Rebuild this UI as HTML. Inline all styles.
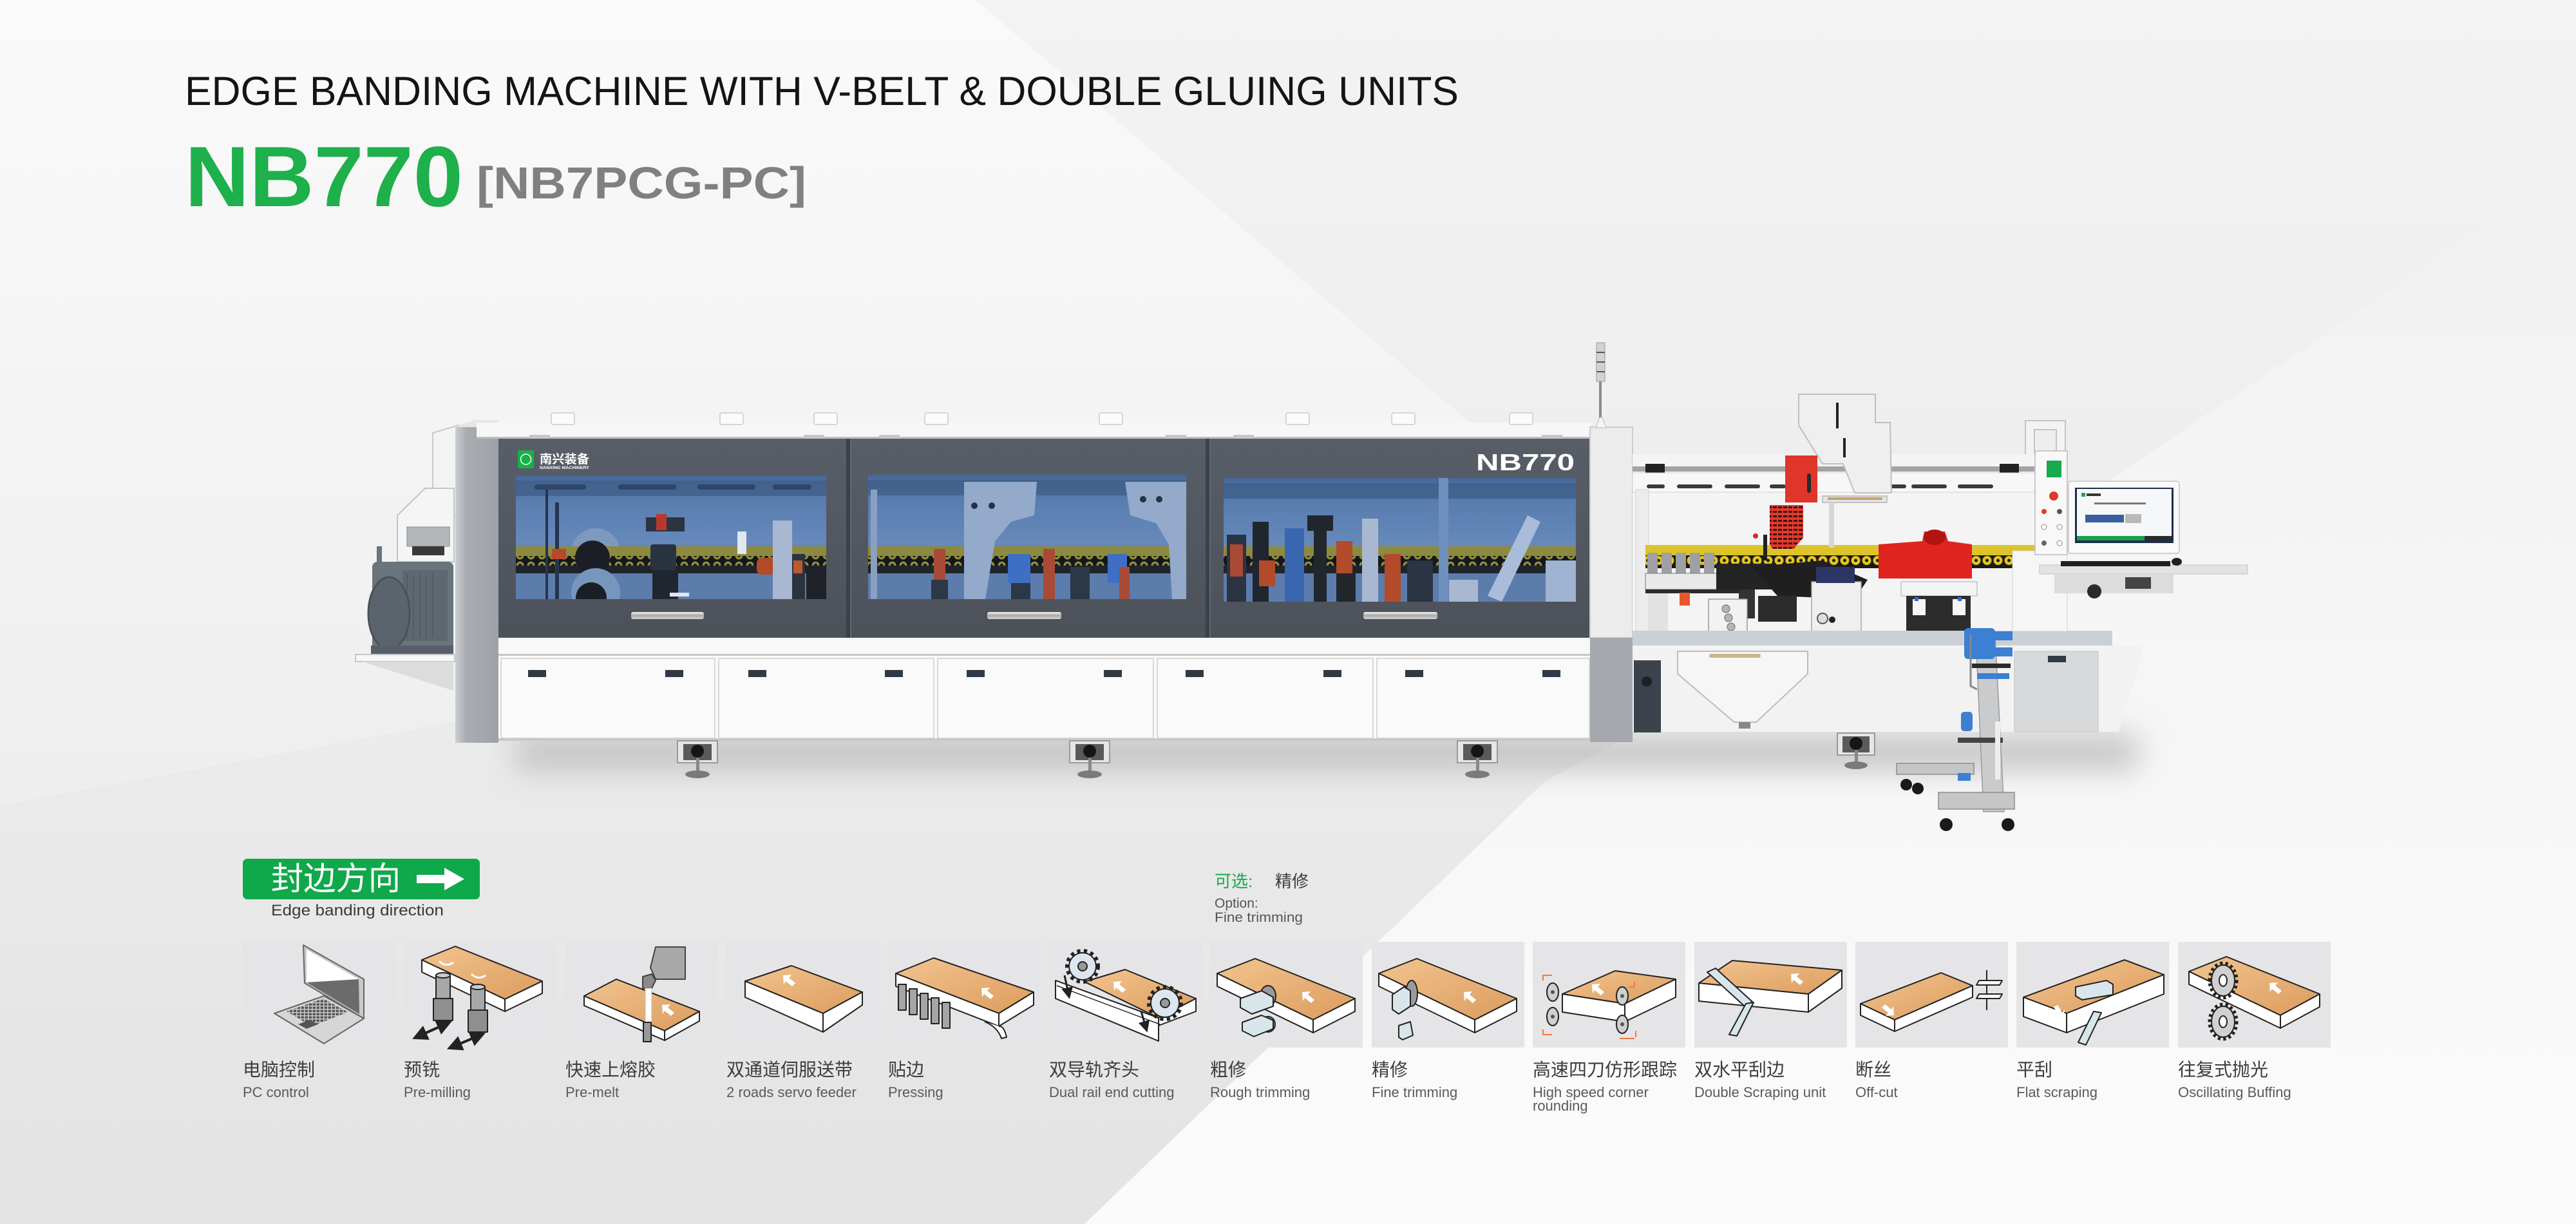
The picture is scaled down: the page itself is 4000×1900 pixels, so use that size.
<!DOCTYPE html>
<html><head><meta charset="utf-8"><style>
html,body{margin:0;padding:0;background:#f0f0f0;}
body{width:4000px;height:1900px;overflow:hidden;}
svg{display:block;}
.cn{font-family:"Liberation Sans","Noto Sans CJK SC",sans-serif;}
.en{font-family:"Liberation Sans",sans-serif;}
</style></head><body>
<svg width="4000" height="1900" viewBox="0 0 4000 1900" xmlns="http://www.w3.org/2000/svg">
<defs>
<linearGradient id="bg" x1="0" y1="0" x2="0" y2="1"><stop offset="0" stop-color="#f3f3f3"/><stop offset="0.55" stop-color="#ececec"/><stop offset="1" stop-color="#e3e3e3"/></linearGradient>
<linearGradient id="lt" x1="0" y1="0" x2="0" y2="1"><stop offset="0" stop-color="#fafafa"/><stop offset="1" stop-color="#eeeeee"/></linearGradient>
<linearGradient id="wt" x1="0" y1="0" x2="0" y2="1"><stop offset="0" stop-color="#f1f1f1"/><stop offset="1" stop-color="#fbfbfb"/></linearGradient>
<linearGradient id="wood" x1="0" y1="0" x2="1" y2="1"><stop offset="0" stop-color="#f2c48f"/><stop offset="1" stop-color="#dc9c5e"/></linearGradient>
<linearGradient id="post" x1="0" y1="0" x2="1" y2="0"><stop offset="0" stop-color="#cbced2"/><stop offset="0.25" stop-color="#a9adb2"/><stop offset="1" stop-color="#9ea2a7"/></linearGradient>
<linearGradient id="panel" x1="0" y1="0" x2="0" y2="1"><stop offset="0" stop-color="#585e68"/><stop offset="1" stop-color="#4c515a"/></linearGradient>
<linearGradient id="win" x1="0" y1="0" x2="0" y2="1"><stop offset="0" stop-color="#46679a"/><stop offset="0.2" stop-color="#587dae"/><stop offset="0.55" stop-color="#6789bb"/><stop offset="1" stop-color="#5677a6"/></linearGradient>
<linearGradient id="hdl" x1="0" y1="0" x2="0" y2="1"><stop offset="0" stop-color="#f4f4f4"/><stop offset="0.5" stop-color="#a8a8a8"/><stop offset="1" stop-color="#d6d6d6"/></linearGradient>
<pattern id="chainB" width="17" height="15" patternUnits="userSpaceOnUse"><rect width="17" height="15" fill="#14171b"/><circle cx="8.5" cy="7.5" r="6" fill="#8e8b3c"/><circle cx="8.5" cy="7.5" r="2.5" fill="#14171b"/></pattern>
<pattern id="chainY" width="17" height="20" patternUnits="userSpaceOnUse"><rect width="17" height="20" fill="#1a1a1a"/><circle cx="8.5" cy="10" r="7" fill="#e3c51f"/><circle cx="8.5" cy="10" r="2.5" fill="#1a1a1a"/></pattern>
<pattern id="grill" width="8" height="7" patternUnits="userSpaceOnUse"><rect width="8" height="7" fill="#e4382c"/><rect x="1" y="2" width="6" height="3" fill="#3a1410"/></pattern>
<pattern id="keys" width="6" height="5" patternUnits="userSpaceOnUse"><rect width="6" height="5" fill="#c9c9c9"/><rect x="0.5" y="0.5" width="4.5" height="3.5" fill="#555"/></pattern>
<filter id="blur" x="-20%" y="-200%" width="140%" height="500%"><feGaussianBlur stdDeviation="24"/></filter>
<marker id="ah" markerWidth="6" markerHeight="6" refX="3" refY="3" orient="auto"><path d="M0,0 L6,3 L0,6 Z" fill="#222"/></marker>
<marker id="ahs" markerWidth="6" markerHeight="6" refX="3" refY="3" orient="auto-start-reverse"><path d="M0,0 L6,3 L0,6 Z" fill="#222"/></marker>
<clipPath id="cw1"><rect x="801" y="738" width="482" height="192"/></clipPath>
<clipPath id="cw2"><rect x="1348" y="737" width="494" height="193"/></clipPath>
<clipPath id="cw3"><rect x="1900" y="742" width="547" height="192"/></clipPath>
<path id="arr" d="M0,0 L13,-1 L9,4 L19,12 L14,17 L4,9 L1,14 Z" fill="#fff"/>
</defs>

<!-- ============ BACKGROUND ============ -->
<rect width="4000" height="1900" fill="url(#bg)"/>
<polygon points="0,0 1515,0 2450,800 0,1250" fill="url(#lt)"/>
<polygon points="1684,1900 2400,1212 3267,751 4000,254 4000,1900" fill="url(#wt)"/>

<!-- ============ TITLE ============ -->
<text x="287" y="163" class="en" font-size="63" fill="#141414" textLength="1978" lengthAdjust="spacingAndGlyphs">EDGE BANDING MACHINE WITH V-BELT &amp; DOUBLE GLUING UNITS</text>
<text x="287" y="320" class="en" font-size="133" font-weight="bold" fill="#1db04b" textLength="432" lengthAdjust="spacingAndGlyphs">NB770</text>
<text x="740" y="308" class="en" font-size="70" font-weight="bold" fill="#808080" textLength="512" lengthAdjust="spacingAndGlyphs">[NB7PCG-PC]</text>

<!-- ============ MACHINE SHADOW ============ -->
<rect x="800" y="1140" width="2520" height="55" fill="#b8b8b8" opacity="0.8" filter="url(#blur)"/>

<!-- ============ LEFT INFEED ============ -->
<polygon points="672,672 712,660 712,800 672,800" fill="#f3f3f3" stroke="#c9c9c9" stroke-width="2"/>
<polygon points="617,800 660,758 705,758 705,872 617,872" fill="#f5f5f5" stroke="#c4c4c4" stroke-width="2"/>
<rect x="632" y="818" width="66" height="30" fill="#b4b7ba" stroke="#888" stroke-width="1"/>
<rect x="640" y="848" width="50" height="14" fill="#3a3a3a"/>
<rect x="578" y="872" width="126" height="140" rx="8" fill="#6a747d"/>
<rect x="625" y="885" width="70" height="110" fill="#5f6870"/>
<g stroke="#545c64" stroke-width="2"><line x1="632" y1="890" x2="632" y2="990"/><line x1="642" y1="890" x2="642" y2="990"/><line x1="652" y1="890" x2="652" y2="990"/><line x1="662" y1="890" x2="662" y2="990"/><line x1="672" y1="890" x2="672" y2="990"/></g>
<ellipse cx="604" cy="952" rx="32" ry="56" fill="#5b646c" stroke="#4a5158" stroke-width="3"/>
<rect x="585" y="848" width="8" height="24" fill="#6a747d"/>
<rect x="576" y="1002" width="128" height="14" fill="#57606a"/>
<polygon points="552,1016 706,1016 706,1027 552,1027" fill="#f7f7f7" stroke="#c8c8c8" stroke-width="2"/>
<polygon points="562,1027 704,1027 704,1072" fill="#dcdcdc"/>

<!-- ============ MAIN BODY ============ -->
<rect x="707" y="663" width="67" height="490" fill="url(#post)"/>
<polygon points="707,663 735,652 774,652 774,663" fill="#e6e6e6"/>
<rect x="740" y="656" width="1730" height="25" fill="#f7f7f7"/>
<rect x="740" y="678" width="1730" height="3" fill="#bdbdbd"/>
<g fill="#fbfbfb" stroke="#d6d6d6" stroke-width="2">
<rect x="856" y="641" width="36" height="18" rx="3"/><rect x="1118" y="641" width="36" height="18" rx="3"/><rect x="1264" y="641" width="36" height="18" rx="3"/><rect x="1436" y="641" width="36" height="18" rx="3"/><rect x="1707" y="641" width="36" height="18" rx="3"/><rect x="1997" y="641" width="36" height="18" rx="3"/><rect x="2161" y="641" width="36" height="18" rx="3"/><rect x="2344" y="641" width="36" height="18" rx="3"/>
</g>
<g fill="#c6c6c6"><rect x="822" y="675" width="32" height="7"/><rect x="1248" y="675" width="32" height="7"/><rect x="1365" y="675" width="32" height="7"/><rect x="1810" y="675" width="32" height="7"/><rect x="1915" y="675" width="32" height="7"/><rect x="2394" y="675" width="32" height="7"/></g>

<rect x="774" y="681" width="1698" height="309" fill="url(#panel)"/>
<rect x="1314" y="681" width="6" height="309" fill="#3c4149"/><rect x="1320" y="681" width="2" height="309" fill="#626872"/>
<rect x="1872" y="681" width="6" height="309" fill="#3c4149"/><rect x="1878" y="681" width="2" height="309" fill="#626872"/>

<rect x="804" y="699" width="25" height="28" fill="#18b04a"/>
<circle cx="816.5" cy="713" r="8" fill="none" stroke="#fff" stroke-width="1.5"/>
<text x="838" y="719" class="cn" font-size="19" font-weight="bold" fill="#fff" textLength="77" lengthAdjust="spacingAndGlyphs">南兴装备</text>
<text x="838" y="728" class="en" font-size="6.5" font-weight="bold" fill="#fff" textLength="77" lengthAdjust="spacingAndGlyphs">NANXING MACHINERY</text>
<text x="2292" y="730" class="en" font-size="36" font-weight="bold" fill="#fff" textLength="153" lengthAdjust="spacingAndGlyphs">NB770</text>

<!-- Window 1 -->
<g clip-path="url(#cw1)">
<rect x="801" y="738" width="482" height="192" fill="url(#win)"/>
<rect x="801" y="746" width="482" height="24" fill="#3f5c86" opacity="0.7"/>
<g fill="#2f4567"><rect x="830" y="752" width="80" height="8" rx="4"/><rect x="960" y="752" width="90" height="8" rx="4"/><rect x="1083" y="752" width="90" height="8" rx="4"/><rect x="1200" y="752" width="60" height="8" rx="4"/></g>
<circle cx="925" cy="858" r="38" fill="#7e99c0"/>
<rect x="1003" y="803" width="60" height="22" fill="#2b3442"/><rect x="1019" y="798" width="16" height="25" fill="#b8392b"/>
<rect x="801" y="848" width="482" height="15" fill="#8c8a3f"/>
<rect x="801" y="863" width="482" height="15" fill="url(#chainB)"/>
<rect x="801" y="878" width="482" height="12" fill="#1f242b"/>
<rect x="801" y="890" width="482" height="40" fill="#5c7dab"/>
<circle cx="920" cy="866" r="27" fill="#1b1f25"/>
<circle cx="925" cy="920" r="38" fill="#7896bd"/><circle cx="918" cy="928" r="24" fill="#1b1f25"/>
<rect x="847" y="760" width="4" height="170" fill="#253550"/><rect x="862" y="780" width="6" height="150" fill="#253550"/>
<rect x="857" y="852" width="22" height="16" fill="#b8472c"/>
<rect x="1010" y="845" width="40" height="40" rx="4" fill="#2a3340"/>
<rect x="1013" y="885" width="40" height="45" fill="#1f2630"/>
<rect x="1040" y="920" width="30" height="6" fill="#dde6f0"/>
<rect x="1175" y="866" width="30" height="26" rx="8" fill="#b34a2a"/>
<rect x="1200" y="808" width="30" height="122" fill="#a7b8d0"/>
<rect x="1230" y="860" width="20" height="70" fill="#2a3340"/><rect x="1232" y="870" width="14" height="20" fill="#c0582e"/>
<rect x="1252" y="880" width="31" height="50" fill="#1e2228"/>
<rect x="1145" y="825" width="14" height="35" fill="#dfe7f0"/>
</g>

<!-- Window 2 -->
<g clip-path="url(#cw2)">
<rect x="1348" y="737" width="494" height="193" fill="url(#win)"/>
<rect x="1348" y="745" width="494" height="24" fill="#3f5c86" opacity="0.7"/>
<rect x="1348" y="848" width="494" height="15" fill="#8c8a3f"/>
<rect x="1348" y="863" width="494" height="15" fill="url(#chainB)"/>
<rect x="1348" y="878" width="494" height="12" fill="#1f242b"/>
<rect x="1348" y="890" width="494" height="40" fill="#5c7dab"/>
<polygon points="1497,748 1610,748 1606,800 1570,810 1545,840 1530,930 1497,930" fill="#93aacb"/>
<polygon points="1747,748 1842,748 1842,930 1820,930 1815,845 1795,812 1755,800" fill="#93aacb"/>
<g fill="#243245"><circle cx="1513" cy="785" r="5"/><circle cx="1540" cy="785" r="5"/><circle cx="1775" cy="775" r="5"/><circle cx="1800" cy="775" r="5"/></g>
<rect x="1450" y="852" width="18" height="78" fill="#a84a35"/><rect x="1446" y="900" width="26" height="30" fill="#2c3748"/>
<rect x="1565" y="860" width="35" height="45" fill="#3e6fc2"/><rect x="1570" y="905" width="30" height="25" fill="#2c3748"/>
<rect x="1620" y="852" width="18" height="78" fill="#a84a35"/>
<rect x="1662" y="880" width="30" height="50" fill="#2c3748"/>
<rect x="1720" y="860" width="30" height="45" fill="#3e6fc2"/><rect x="1738" y="880" width="16" height="50" fill="#a84a35"/>
<rect x="1352" y="760" width="10" height="170" fill="#8aa0c2"/>
</g>

<!-- Window 3 -->
<g clip-path="url(#cw3)">
<rect x="1900" y="742" width="547" height="192" fill="url(#win)"/>
<rect x="1900" y="750" width="547" height="24" fill="#3f5c86" opacity="0.7"/>
<rect x="1900" y="848" width="547" height="15" fill="#8c8a3f"/>
<rect x="1900" y="863" width="547" height="15" fill="url(#chainB)"/>
<rect x="1900" y="878" width="547" height="12" fill="#1f242b"/>
<rect x="1900" y="890" width="547" height="44" fill="#5c7dab"/>
<rect x="2234" y="742" width="15" height="192" fill="#6f8fbe"/>
<rect x="1905" y="830" width="30" height="104" fill="#2b3442"/><rect x="1910" y="845" width="20" height="50" fill="#a84a35"/>
<rect x="1945" y="810" width="25" height="124" fill="#1f2630"/><rect x="1955" y="870" width="25" height="40" fill="#b34a2a"/>
<rect x="1995" y="820" width="30" height="114" fill="#3a66b0"/>
<rect x="2030" y="800" width="40" height="24" fill="#22272e"/><rect x="2040" y="824" width="20" height="110" fill="#22272e"/>
<rect x="2075" y="840" width="25" height="50" fill="#b34a2a"/><rect x="2075" y="890" width="30" height="44" fill="#22272e"/>
<rect x="2115" y="805" width="25" height="129" fill="#a7b8d0"/>
<rect x="2150" y="860" width="25" height="74" fill="#b34a2a"/>
<rect x="2185" y="870" width="40" height="64" fill="#2b3442"/>
<rect x="2250" y="900" width="45" height="34" fill="#a7b8d0"/>
<polygon points="2310,925 2372,800 2392,810 2332,934" fill="#a9bddb"/>
<rect x="2400" y="870" width="47" height="64" fill="#9fb3d2"/>
</g>

<rect x="980" y="950" width="113" height="11" rx="3" fill="url(#hdl)"/>
<rect x="1533" y="950" width="115" height="11" rx="3" fill="url(#hdl)"/>
<rect x="2117" y="950" width="115" height="11" rx="3" fill="url(#hdl)"/>

<rect x="774" y="990" width="1696" height="28" fill="#f8f8f8"/>
<rect x="774" y="1015" width="1696" height="3" fill="#c6c6c6"/>
<rect x="774" y="1018" width="1696" height="132" fill="#fafafa"/>
<g fill="none" stroke="#d8d8d8" stroke-width="2">
<rect x="778" y="1022" width="332" height="124"/><rect x="1116" y="1022" width="334" height="124"/><rect x="1456" y="1022" width="335" height="124"/><rect x="1797" y="1022" width="335" height="124"/><rect x="2138" y="1022" width="330" height="124"/>
</g>
<rect x="774" y="1146" width="1696" height="4" fill="#c9c9c9"/>
<g fill="#2f3a44">
<rect x="820" y="1040" width="28" height="11"/><rect x="1033" y="1040" width="28" height="11"/><rect x="1162" y="1040" width="28" height="11"/><rect x="1374" y="1040" width="28" height="11"/><rect x="1501" y="1040" width="28" height="11"/><rect x="1714" y="1040" width="28" height="11"/><rect x="1841" y="1040" width="28" height="11"/><rect x="2055" y="1040" width="28" height="11"/><rect x="2182" y="1040" width="28" height="11"/><rect x="2395" y="1040" width="28" height="11"/>
</g>

<g>
<rect x="1052" y="1150" width="62" height="34" fill="#e6e6e6" stroke="#9a9a9a" stroke-width="2"/><rect x="1061" y="1155" width="44" height="25" fill="#5a5a5a"/><circle cx="1083" cy="1166" r="10" fill="#151515"/><rect x="1081" y="1176" width="5" height="22" fill="#888"/><ellipse cx="1083" cy="1202" rx="19" ry="6" fill="#7a7a7a"/>
<rect x="1661" y="1150" width="62" height="34" fill="#e6e6e6" stroke="#9a9a9a" stroke-width="2"/><rect x="1670" y="1155" width="44" height="25" fill="#5a5a5a"/><circle cx="1692" cy="1166" r="10" fill="#151515"/><rect x="1690" y="1176" width="5" height="22" fill="#888"/><ellipse cx="1692" cy="1202" rx="19" ry="6" fill="#7a7a7a"/>
<rect x="2263" y="1150" width="62" height="34" fill="#e6e6e6" stroke="#9a9a9a" stroke-width="2"/><rect x="2272" y="1155" width="44" height="25" fill="#5a5a5a"/><circle cx="2294" cy="1166" r="10" fill="#151515"/><rect x="2292" y="1176" width="5" height="22" fill="#888"/><ellipse cx="2294" cy="1202" rx="19" ry="6" fill="#7a7a7a"/>
<rect x="2853" y="1138" width="58" height="34" fill="#e6e6e6" stroke="#9a9a9a" stroke-width="2"/><rect x="2861" y="1143" width="42" height="25" fill="#5a5a5a"/><circle cx="2882" cy="1154" r="10" fill="#151515"/><rect x="2880" y="1164" width="5" height="20" fill="#888"/><ellipse cx="2882" cy="1188" rx="18" ry="6" fill="#7a7a7a"/>
</g>

<rect x="2469" y="663" width="66" height="327" fill="#ececec" stroke="#cdcdcd" stroke-width="2"/>
<rect x="2469" y="990" width="66" height="162" fill="#a5a9ae"/>
<rect x="2483" y="590" width="4" height="60" fill="#8a8a8a"/>
<rect x="2479" y="532" width="13" height="60" fill="#d2d2d2" stroke="#999" stroke-width="1"/>
<g fill="#555"><rect x="2479" y="546" width="13" height="2"/><rect x="2479" y="561" width="13" height="2"/><rect x="2479" y="576" width="13" height="2"/></g>
<polygon points="2478,664 2484,648 2488,648 2494,664" fill="#f5f5f5" stroke="#bbb" stroke-width="1"/>

<!-- ============ RIGHT SECTION ============ -->
<rect x="2535" y="705" width="625" height="275" fill="#f4f4f4"/>
<rect x="2535" y="724" width="625" height="8" fill="#a3a3a3"/>
<rect x="2555" y="720" width="30" height="16" fill="#222"/><rect x="3105" y="720" width="30" height="16" fill="#222"/>
<rect x="2535" y="734" width="625" height="30" fill="#f7f7f7" stroke="#d3d3d3" stroke-width="1"/>
<g fill="#3a3a3a"><rect x="2557" y="752" width="28" height="6" rx="3"/><rect x="2604" y="752" width="55" height="6" rx="3"/><rect x="2678" y="752" width="55" height="6" rx="3"/><rect x="2748" y="752" width="25" height="6" rx="3"/><rect x="2935" y="752" width="25" height="6" rx="3"/><rect x="2968" y="752" width="55" height="6" rx="3"/><rect x="3040" y="752" width="55" height="6" rx="3"/></g>
<rect x="2540" y="760" width="20" height="220" fill="#ececec" stroke="#d0d0d0" stroke-width="1"/>
<rect x="2555" y="846" width="605" height="16" fill="#dcc42a"/>
<rect x="2555" y="862" width="605" height="20" fill="url(#chainY)"/>
<g fill="#9ea0a3"><rect x="2558" y="858" width="16" height="32"/><rect x="2580" y="858" width="16" height="32"/><rect x="2602" y="858" width="16" height="32"/><rect x="2624" y="858" width="16" height="32"/><rect x="2646" y="858" width="16" height="32"/></g>
<rect x="2555" y="890" width="130" height="25" fill="#e9e9e9" stroke="#777" stroke-width="1"/>
<rect x="2555" y="915" width="145" height="6" fill="#2a2a2a"/>
<rect x="2560" y="921" width="30" height="59" fill="#e2e2e2"/>
<rect x="2608" y="920" width="16" height="20" fill="#e8562e"/>
<rect x="2665" y="875" width="90" height="40" fill="#242424"/>
<rect x="2700" y="915" width="25" height="45" fill="#333"/>
<polygon points="2720,880 2830,870 2900,900 2880,930 2760,925" fill="#1f1f1f"/>
<rect x="2730" y="925" width="60" height="40" fill="#2c2c2c"/>
<rect x="2738" y="830" width="6" height="40" fill="#222"/>
<rect x="2653" y="930" width="60" height="75" fill="#f2f2f2" stroke="#9a9a9a" stroke-width="1.5"/>
<g fill="#b5b5b5" stroke="#666" stroke-width="1"><circle cx="2680" cy="945" r="6"/><circle cx="2684" cy="959" r="6"/><circle cx="2688" cy="973" r="6"/><circle cx="2692" cy="987" r="6"/></g>
<rect x="2813" y="903" width="77" height="82" fill="#efefef" stroke="#a5a5a5" stroke-width="1.5"/>
<circle cx="2830" cy="960" r="8" fill="#ddd" stroke="#555" stroke-width="2"/><circle cx="2845" cy="962" r="5" fill="#222"/>
<rect x="2820" y="880" width="60" height="25" fill="#2c3766"/>
<polygon points="2793,612 2912,612 2912,656 2935,656 2937,765 2880,765 2862,720 2830,720 2793,660" fill="#efefef" stroke="#bfbfbf" stroke-width="2"/>
<rect x="2851" y="625" width="4" height="40" fill="#222"/><rect x="2862" y="680" width="4" height="30" fill="#222"/>
<rect x="2830" y="770" width="100" height="10" fill="#e5e5e5" stroke="#999" stroke-width="1"/>
<rect x="2838" y="772" width="85" height="4" fill="#c8a46c"/>
<rect x="2840" y="780" width="8" height="70" fill="#d6d6d6"/>
<rect x="2772" y="707" width="50" height="73" fill="#e0352b"/>
<rect x="2806" y="735" width="6" height="30" rx="3" fill="#2a2a2a"/>
<polygon points="2748,784 2800,784 2800,835 2785,852 2752,852 2748,845" fill="url(#grill)"/>
<circle cx="2726" cy="832" r="4" fill="#d42a20"/>
<polygon points="2917,845 2985,840 2988,825 3020,825 3025,840 3062,845 3062,898 2917,898" fill="#e0241f"/>
<ellipse cx="3004" cy="834" rx="17" ry="12" fill="#b01510"/>
<rect x="2952" y="903" width="118" height="22" fill="#f3f3f3" stroke="#aaa" stroke-width="1"/>
<rect x="2960" y="925" width="100" height="60" fill="#2c2c2c"/>
<rect x="2970" y="930" width="20" height="25" fill="#f5f5f5"/><rect x="3032" y="930" width="20" height="25" fill="#f5f5f5"/>
<rect x="2973" y="927" width="6" height="6" fill="#2b6fd6"/><rect x="3040" y="927" width="6" height="6" fill="#2b6fd6"/>
<rect x="2535" y="979" width="745" height="23" fill="#cbd0d6"/>
<polygon points="2535,1002 3325,1002 3325,1020 3290,1136 2535,1136" fill="#f2f2f2"/>
<rect x="2537" y="1025" width="42" height="112" fill="#3b424b"/>
<circle cx="2557" cy="1058" r="8" fill="#1d2126"/>
<polygon points="2605,1011 2807,1011 2807,1046 2727,1121 2693,1121 2605,1046" fill="#f6f6f6" stroke="#bdbdbd" stroke-width="2"/>
<rect x="2654" y="1015" width="80" height="6" rx="3" fill="#cbb48a"/>
<rect x="2700" y="1121" width="18" height="10" fill="#888"/>
<rect x="3128" y="1011" width="130" height="125" fill="#d8d9db" stroke="#c2c2c2" stroke-width="1"/>
<rect x="3180" y="1018" width="28" height="10" fill="#2f3a44"/>
<rect x="3125" y="855" width="85" height="125" fill="#f6f6f6" stroke="#d2d2d2" stroke-width="1"/>
<path d="M3152,705 L3152,660 L3200,660 L3200,700" fill="none" stroke="#c4c4c4" stroke-width="16"/>
<path d="M3152,705 L3152,660 L3200,660 L3200,700" fill="none" stroke="#f3f3f3" stroke-width="12"/>
<rect x="3160" y="700" width="50" height="161" fill="#f8f8f8" stroke="#c9c9c9" stroke-width="2"/>
<rect x="3178" y="715" width="23" height="26" fill="#18a94a"/>
<circle cx="3189" cy="770" r="7" fill="#e03a2a"/>
<circle cx="3174" cy="794" r="4" fill="#e03a2a"/><circle cx="3198" cy="794" r="4" fill="#555"/>
<circle cx="3174" cy="818" r="4" fill="#fff" stroke="#888"/><circle cx="3198" cy="818" r="4" fill="#fff" stroke="#888"/>
<circle cx="3174" cy="843" r="4" fill="#666"/><circle cx="3198" cy="843" r="4" fill="#fff" stroke="#888"/>
<rect x="3212" y="747" width="172" height="112" rx="4" fill="#fafafa" stroke="#d0d0d0" stroke-width="2"/>
<rect x="3222" y="757" width="153" height="86" fill="#1e2d4a"/>
<rect x="3225" y="759" width="147" height="80" fill="#f6f7f8"/>
<rect x="3232" y="765" width="6" height="6" fill="#18a94a"/>
<rect x="3240" y="766" width="22" height="4" fill="#333"/>
<rect x="3252" y="780" width="80" height="3" fill="#777"/>
<rect x="3238" y="799" width="60" height="12" fill="#3b5f9e"/><rect x="3300" y="798" width="25" height="14" fill="#b9b9b9"/>
<rect x="3225" y="832" width="147" height="7" fill="#18a14a"/>
<rect x="3330" y="832" width="42" height="7" fill="#2b2b2b"/>
<rect x="3167" y="877" width="323" height="14" fill="#e2e2e2" stroke="#c2c2c2" stroke-width="1"/>
<rect x="3200" y="871" width="170" height="8" fill="#1f1f1f"/>
<ellipse cx="3380" cy="872" rx="8" ry="6" fill="#1f1f1f"/>
<rect x="3190" y="891" width="185" height="30" fill="#dcdcdc"/>
<circle cx="3252" cy="918" r="11" fill="#2a2a2a"/>
<rect x="3300" y="896" width="40" height="18" fill="#444"/>
<polygon points="3068,985 3098,985 3112,1260 3080,1260" fill="#c9cbcd" stroke="#9a9a9a" stroke-width="1.5"/>
<rect x="3050" y="975" width="48" height="48" rx="6" fill="#3b80d2"/>
<rect x="3095" y="980" width="30" height="14" fill="#3b80d2"/><rect x="3095" y="1005" width="30" height="14" fill="#3b80d2"/>
<rect x="3062" y="1030" width="60" height="7" fill="#2a2a2a"/>
<rect x="3070" y="1045" width="50" height="9" fill="#3b80d2"/>
<path d="M3060,985 L3060,1065 L3070,1070" fill="none" stroke="#888" stroke-width="3"/>
<rect x="3045" y="1105" width="18" height="30" rx="5" fill="#3b80d2"/>
<rect x="3040" y="1145" width="70" height="8" fill="#444"/>
<rect x="2945" y="1185" width="120" height="17" fill="#c4c6c8" stroke="#8c8c8c" stroke-width="1.5"/>
<rect x="3010" y="1230" width="118" height="26" fill="#c4c6c8" stroke="#8c8c8c" stroke-width="1.5"/>
<rect x="3040" y="1200" width="20" height="12" fill="#3b80d2"/>
<rect x="3098" y="1120" width="8" height="90" fill="#eee"/>
<g fill="#1a1a1a"><circle cx="2960" cy="1218" r="9"/><circle cx="2978" cy="1224" r="9"/><circle cx="3022" cy="1280" r="10"/><circle cx="3118" cy="1280" r="10"/></g>

<!-- ============ DIRECTION BUTTON ============ -->
<rect x="377" y="1333" width="368" height="63" rx="7" fill="#0fa84a"/>
<text x="421" y="1381" class="cn" font-size="50" fill="#fff" textLength="201" lengthAdjust="spacingAndGlyphs">封边方向</text>
<rect x="647" y="1358" width="48" height="13" fill="#fff"/>
<polygon points="690,1347 721,1364.5 690,1382" fill="#fff"/>
<text x="421" y="1421" class="en" font-size="24" fill="#3a3a3a" textLength="268" lengthAdjust="spacingAndGlyphs">Edge banding direction</text>

<text x="1886" y="1377" class="cn" font-size="26" fill="#1aa84a">可选:</text>
<text x="1980" y="1377" class="cn" font-size="26" fill="#3d3d3d">精修</text>
<text x="1886" y="1409" class="en" font-size="21" fill="#555">Option:</text>
<text x="1886" y="1431" class="en" font-size="21" fill="#555" textLength="137" lengthAdjust="spacingAndGlyphs">Fine trimming</text>

<!-- ============ TILES ============ -->
<g fill="#e5e4e6">
<rect x="377" y="1462" width="237" height="164"/><rect x="627" y="1462" width="237" height="164"/><rect x="878" y="1462" width="237" height="164"/><rect x="1128" y="1462" width="237" height="164"/><rect x="1379" y="1462" width="237" height="164"/><rect x="1629" y="1462" width="237" height="164"/><rect x="1879" y="1462" width="237" height="164"/><rect x="2130" y="1462" width="237" height="164"/><rect x="2380" y="1462" width="237" height="164"/><rect x="2631" y="1462" width="237" height="164"/><rect x="2881" y="1462" width="237" height="164"/><rect x="3131" y="1462" width="237" height="164"/><rect x="3382" y="1462" width="237" height="164"/>
</g>

<g transform="translate(377,1462)" stroke-linejoin="round">
<polygon points="94,5 188,58 188,119 96,64" fill="#c9c9c9" stroke="#666" stroke-width="2"/>
<polygon points="99,12 180,58 99,63" fill="#fff"/>
<polygon points="99,63 180,58 181,112" fill="#6b6b6b"/>
<polygon points="49,111 126,84 188,119 126,158" fill="#d6d6d6" stroke="#666" stroke-width="2"/>
<polygon points="68,108 125,88 163,109 107,131" fill="url(#keys)"/>
<polygon points="86,128 104,121 117,128 99,135" fill="#555"/>
</g>

<g transform="translate(627,1462)" stroke="#222" stroke-width="2" stroke-linejoin="round">
<polygon points="28,28 80,7 215,61 157,89" fill="url(#wood)"/>
<polygon points="28,28 157,89 157,108 28,47" fill="#fff"/>
<polygon points="157,89 215,61 215,80 157,108" fill="#fff"/>
<rect x="50" y="52" width="22" height="36" fill="#a8a8a8"/><ellipse cx="61" cy="52" rx="11" ry="4" fill="#ccc"/>
<rect x="46" y="88" width="30" height="34" fill="#8f8f8f"/>
<rect x="104" y="70" width="22" height="36" fill="#a8a8a8"/><ellipse cx="115" cy="70" rx="11" ry="4" fill="#ccc"/>
<rect x="100" y="106" width="30" height="34" fill="#8f8f8f"/>
<line x1="24" y1="146" x2="64" y2="128" stroke-width="4" marker-end="url(#ah)" marker-start="url(#ahs)"/>
<line x1="78" y1="162" x2="116" y2="146" stroke-width="4" marker-end="url(#ah)" marker-start="url(#ahs)"/>
<path d="M55,30 q10,10 22,2" fill="none" stroke="#fff" stroke-width="3"/>
<path d="M105,50 q10,10 22,2" fill="none" stroke="#fff" stroke-width="3"/>
</g>

<g transform="translate(878,1462)" stroke="#222" stroke-width="2" stroke-linejoin="round">
<polygon points="140,8 186,8 186,58 140,58 132,40" fill="#a9a9a9" stroke="#444"/>
<polygon points="120,54 134,50 140,60 134,72 120,72" fill="#8a8a8a" stroke="#444"/>
<polygon points="29,84 79,58 208,108 154,138" fill="url(#wood)"/>
<polygon points="29,84 154,138 154,153 29,99" fill="#fff"/>
<polygon points="154,138 208,108 208,123 154,153" fill="#fff"/>
<rect x="124" y="72" width="10" height="80" fill="#fff" stroke="#bbb" stroke-width="1"/>
<rect x="121" y="125" width="12" height="30" fill="#999"/>
<use href="#arr" x="150" y="98" stroke="none"/>
</g>

<g transform="translate(1128,1462)" stroke="#222" stroke-width="2" stroke-linejoin="round">
<polygon points="29,61 101,37 211,78 150,111" fill="url(#wood)"/>
<polygon points="29,61 150,111 150,140 29,86" fill="#fff"/>
<polygon points="150,111 211,78 211,98 150,140" fill="#fff"/>
<use href="#arr" x="88" y="52" stroke="none"/>
</g>

<g transform="translate(1379,1462)" stroke="#222" stroke-width="2" stroke-linejoin="round">
<polygon points="12,49 71,25 226,78 172,111" fill="url(#wood)"/>
<polygon points="12,49 172,111 172,131 12,69" fill="#fff"/>
<polygon points="172,111 226,78 226,98 172,131" fill="#fff"/>
<path d="M150,124 Q170,132 176,150 L184,148 Q180,130 172,131" fill="#fff"/>
<g fill="#a5a5a5"><rect x="16" y="66" width="12" height="40"/><rect x="33" y="73" width="12" height="40"/><rect x="50" y="80" width="12" height="40"/><rect x="67" y="87" width="12" height="40"/><rect x="84" y="94" width="12" height="40"/></g>
<use href="#arr" x="145" y="72" stroke="none"/>
</g>

<g transform="translate(1629,1462)" stroke="#222" stroke-width="2" stroke-linejoin="round">
<polygon points="55,62 118,43 228,88 170,118" fill="url(#wood)"/>
<polygon points="10,60 170,118 170,154 10,88" fill="#fff"/>
<polygon points="170,118 228,88 228,108 170,130" fill="#fff"/>
<line x1="12" y1="68" x2="172" y2="128" stroke-width="1.5"/>
<circle cx="52" cy="38" r="23" fill="none" stroke-width="8" stroke-dasharray="5 5"/>
<circle cx="52" cy="38" r="21" fill="#dde6ee"/><circle cx="52" cy="38" r="7" fill="#999"/>
<circle cx="180" cy="95" r="24" fill="none" stroke-width="8" stroke-dasharray="5 5"/>
<circle cx="180" cy="95" r="22" fill="#dde6ee"/><circle cx="180" cy="95" r="7" fill="#999"/>
<line x1="24" y1="52" x2="30" y2="80" stroke-width="3" marker-end="url(#ah)"/>
<line x1="143" y1="108" x2="150" y2="132" stroke-width="3" marker-end="url(#ah)"/>
<use href="#arr" x="100" y="62" stroke="none"/>
</g>

<g transform="translate(1879,1462)" stroke="#222" stroke-width="2" stroke-linejoin="round">
<polygon points="11,49 70,26 225,88 160,121" fill="url(#wood)"/>
<polygon points="11,49 160,121 160,141 11,69" fill="#fff"/>
<polygon points="160,121 225,88 225,108 160,141" fill="#fff"/>
<ellipse cx="90" cy="84" rx="12" ry="16" fill="#9a9a9a"/>
<polygon points="47,88 80,76 98,86 98,100 65,112 47,102" fill="#d8e6ec"/>
<ellipse cx="90" cy="128" rx="11" ry="12" fill="#9a9a9a"/>
<polygon points="50,125 80,114 98,122 98,135 68,147 50,138" fill="#d8e6ec"/>
<use href="#arr" x="143" y="78" stroke="none"/>
</g>

<g transform="translate(2130,1462)" stroke="#222" stroke-width="2" stroke-linejoin="round">
<polygon points="11,49 70,26 225,88 160,121" fill="url(#wood)"/>
<polygon points="11,49 160,121 160,141 11,69" fill="#fff"/>
<polygon points="160,121 225,88 225,108 160,141" fill="#fff"/>
<ellipse cx="62" cy="80" rx="9" ry="20" fill="#9a9a9a"/>
<polygon points="32,82 50,70 60,76 60,100 42,112 32,105" fill="#d8e6ec"/>
<polygon points="42,130 60,124 64,145 48,152 42,148" fill="#d8e6ec"/>
<use href="#arr" x="143" y="78" stroke="none"/>
</g>

<g transform="translate(2380,1462)" stroke="#222" stroke-width="2" stroke-linejoin="round">
<polygon points="46,81 128,45 222,58 143,96" fill="url(#wood)"/>
<polygon points="46,81 143,96 143,124 46,109" fill="#fff"/>
<polygon points="143,96 222,58 222,86 143,124" fill="#fff"/>
<g fill="#cfcfcf"><ellipse cx="31" cy="78" rx="9" ry="14"/><ellipse cx="139" cy="84" rx="9" ry="14"/><ellipse cx="31" cy="116" rx="9" ry="14"/><ellipse cx="139" cy="128" rx="9" ry="14"/></g>
<g fill="#555" stroke="none"><circle cx="31" cy="78" r="3"/><circle cx="139" cy="84" r="3"/><circle cx="31" cy="116" r="3"/><circle cx="139" cy="128" r="3"/></g>
<g stroke="#f07a3a" stroke-width="2" fill="none"><path d="M16,60 L16,52 L30,52"/><path d="M16,136 L16,144 L30,144"/><path d="M160,148 L160,138"/><path d="M135,150 L158,150"/><path d="M150,70 L158,70 L158,62"/></g>
<use href="#arr" x="92" y="66" stroke="none"/>
</g>

<g transform="translate(2631,1462)" stroke="#222" stroke-width="2" stroke-linejoin="round">
<polygon points="7,64 59,29 229,44 177,81" fill="url(#wood)"/>
<polygon points="7,64 177,81 177,109 7,92" fill="#fff"/>
<polygon points="177,81 229,44 229,72 177,109" fill="#fff"/>
<polygon points="20,47 33,41 90,93 78,100" fill="#d8e6ec"/>
<polygon points="80,96 92,94 66,146 54,144" fill="#d8e6ec"/>
<use href="#arr" x="150" y="50" stroke="none"/>
</g>

<g transform="translate(2881,1462)" stroke="#222" stroke-width="2" stroke-linejoin="round">
<polygon points="8,96 133,48 182,68 61,121" fill="url(#wood)"/>
<polygon points="8,96 61,121 61,139 8,114" fill="#fff"/>
<polygon points="61,121 182,68 182,86 61,139" fill="#fff"/>
<line x1="204" y1="44" x2="204" y2="106" stroke-width="2"/>
<polygon points="192,60 228,60 224,67 188,67" fill="#fff"/>
<polygon points="192,81 228,81 224,88 188,88" fill="#fff"/>
<use href="#arr" x="40" y="98" stroke="none" transform="rotate(180 50 106)"/>
</g>

<g transform="translate(3131,1462)" stroke="#222" stroke-width="2" stroke-linejoin="round">
<polygon points="11,86 168,28 229,51 78,111" fill="url(#wood)"/>
<polygon points="11,86 78,111 78,141 11,116" fill="#fff"/>
<polygon points="78,111 229,51 229,81 78,141" fill="#fff"/>
<polygon points="92,70 140,60 150,66 150,82 102,90 92,84" fill="#d8e6ec"/>
<polygon points="120,108 132,110 108,160 96,156" fill="#d8e6ec"/>
<use href="#arr" x="55" y="100" stroke="none" transform="rotate(200 65 108)"/>
</g>

<g transform="translate(3382,1462)" stroke="#222" stroke-width="2" stroke-linejoin="round">
<polygon points="17,46 75,23 220,81 159,114" fill="url(#wood)"/>
<polygon points="17,46 159,114 159,134 17,66" fill="#fff"/>
<polygon points="159,114 220,81 220,101 159,134" fill="#fff"/>
<ellipse cx="70" cy="60" rx="20" ry="26" fill="none" stroke-width="7" stroke-dasharray="4 4"/>
<ellipse cx="70" cy="60" rx="18" ry="24" fill="#d0d0d0"/><ellipse cx="70" cy="60" rx="6" ry="9" fill="#fff"/>
<ellipse cx="70" cy="124" rx="20" ry="26" fill="none" stroke-width="7" stroke-dasharray="4 4"/>
<ellipse cx="70" cy="124" rx="18" ry="24" fill="#d0d0d0"/><ellipse cx="70" cy="124" rx="6" ry="9" fill="#fff"/>
<use href="#arr" x="142" y="64" stroke="none"/>
</g>

<!-- ============ TILE LABELS ============ -->
<g class="cn" font-size="28" fill="#3d3d3d">
<text x="377" y="1670">电脑控制</text>
<text x="627" y="1670">预铣</text>
<text x="878" y="1670">快速上熔胶</text>
<text x="1128" y="1670">双通道伺服送带</text>
<text x="1379" y="1670">贴边</text>
<text x="1629" y="1670">双导轨齐头</text>
<text x="1879" y="1670">粗修</text>
<text x="2130" y="1670">精修</text>
<text x="2380" y="1670">高速四刀仿形跟踪</text>
<text x="2631" y="1670">双水平刮边</text>
<text x="2881" y="1670">断丝</text>
<text x="3131" y="1670">平刮</text>
<text x="3382" y="1670">往复式抛光</text>
</g>
<g class="en" font-size="22" fill="#5a5a5a">
<text x="377" y="1703">PC control</text>
<text x="627" y="1703">Pre-milling</text>
<text x="878" y="1703">Pre-melt</text>
<text x="1128" y="1703">2 roads servo feeder</text>
<text x="1379" y="1703">Pressing</text>
<text x="1629" y="1703">Dual rail end cutting</text>
<text x="1879" y="1703">Rough trimming</text>
<text x="2130" y="1703">Fine trimming</text>
<text x="2380" y="1703">High speed corner</text>
<text x="2380" y="1724">rounding</text>
<text x="2631" y="1703">Double Scraping unit</text>
<text x="2881" y="1703">Off-cut</text>
<text x="3131" y="1703">Flat scraping</text>
<text x="3382" y="1703">Oscillating Buffing</text>
</g>
</svg>
</body></html>
